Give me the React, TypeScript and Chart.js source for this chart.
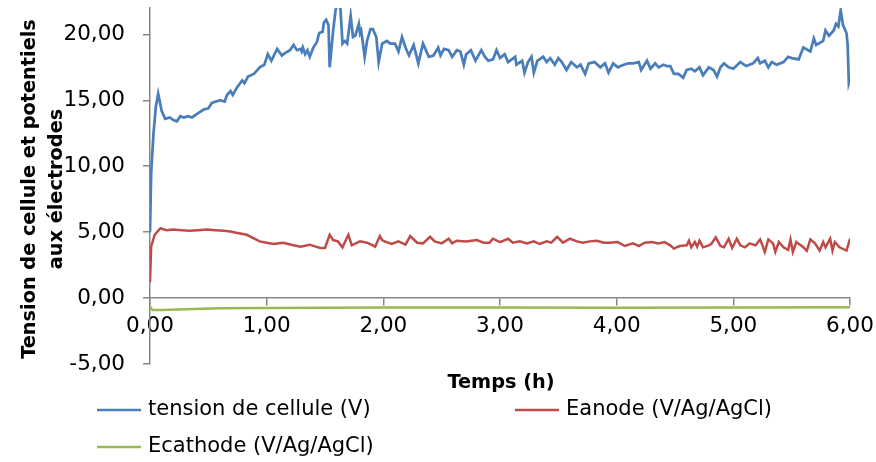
import React, { useEffect, useRef } from "react";
import { Chart, registerables } from "chart.js";

Chart.register(...registerables);

// ---- data ----
const blueT = [0, 0.01, 0.03, 0.05, 0.07, 0.1, 0.13, 0.17, 0.2, 0.23, 0.26, 0.29, 0.33, 0.36, 0.41, 0.46, 0.5, 0.53, 0.6, 0.64, 0.66, 0.69, 0.71, 0.74, 0.79, 0.81, 0.84, 0.89, 0.91, 0.94, 0.98, 1.01, 1.04, 1.09, 1.13, 1.16, 1.2, 1.23, 1.26, 1.29, 1.3, 1.31, 1.33, 1.35, 1.37, 1.4, 1.43, 1.45, 1.48, 1.49, 1.51, 1.53, 1.54, 1.57, 1.59, 1.61, 1.63, 1.65, 1.67, 1.69, 1.72, 1.74, 1.76, 1.79, 1.8, 1.81, 1.84, 1.86, 1.89, 1.91, 1.94, 1.96, 1.99, 2.03, 2.06, 2.1, 2.13, 2.16, 2.19, 2.22, 2.26, 2.3, 2.34, 2.39, 2.43, 2.47, 2.49, 2.52, 2.56, 2.59, 2.63, 2.66, 2.69, 2.71, 2.75, 2.79, 2.84, 2.87, 2.9, 2.94, 2.97, 3.0, 3.04, 3.07, 3.13, 3.14, 3.19, 3.21, 3.24, 3.27, 3.29, 3.32, 3.37, 3.4, 3.43, 3.47, 3.5, 3.53, 3.57, 3.61, 3.66, 3.69, 3.73, 3.76, 3.81, 3.86, 3.9, 3.93, 3.97, 4.01, 4.06, 4.1, 4.14, 4.19, 4.21, 4.26, 4.29, 4.33, 4.36, 4.4, 4.43, 4.46, 4.49, 4.53, 4.57, 4.6, 4.64, 4.67, 4.71, 4.74, 4.79, 4.83, 4.86, 4.89, 4.92, 4.96, 5.0, 5.06, 5.11, 5.17, 5.21, 5.23, 5.27, 5.3, 5.33, 5.37, 5.43, 5.47, 5.5, 5.56, 5.6, 5.66, 5.69, 5.71, 5.77, 5.79, 5.82, 5.86, 5.88, 5.9, 5.92, 5.94, 5.97, 5.98, 5.99, 6.0];
const blueV = [5.0, 9.5, 12.5, 14.5, 15.5, 14.2, 13.6, 13.7, 13.5, 13.4, 13.8, 13.7, 13.8, 13.7, 14.0, 14.3, 14.4, 14.8, 15.0, 14.9, 15.4, 15.7, 15.4, 15.9, 16.5, 16.3, 16.8, 17.0, 17.2, 17.5, 17.7, 18.5, 18.0, 18.9, 18.4, 18.6, 18.8, 19.2, 18.8, 18.9, 18.7, 19.0, 18.5, 18.8, 18.3, 19.0, 19.4, 20.1, 20.2, 20.9, 21.1, 20.7, 17.5, 20.3, 21.8, 22.5, 22.3, 19.3, 19.5, 19.3, 21.4, 19.8, 19.9, 20.8, 20.1, 20.3, 18.3, 19.5, 20.4, 20.4, 19.8, 17.9, 19.3, 19.5, 19.3, 19.3, 18.7, 19.8, 19.0, 18.4, 19.2, 17.8, 19.3, 18.3, 18.4, 19.0, 18.4, 18.9, 18.8, 18.3, 18.8, 18.7, 17.7, 18.5, 18.8, 18.0, 18.8, 18.3, 18.0, 18.1, 18.8, 18.2, 18.5, 17.9, 18.3, 17.7, 18.0, 17.1, 17.9, 18.3, 17.1, 18.0, 18.3, 17.9, 18.2, 17.7, 18.2, 17.9, 17.3, 17.9, 17.5, 17.7, 17.0, 17.8, 17.9, 17.5, 17.8, 17.1, 17.8, 17.5, 17.7, 17.8, 17.8, 17.9, 17.3, 18.0, 17.4, 17.8, 17.5, 17.7, 17.6, 17.6, 17.0, 17.0, 16.7, 17.3, 17.4, 17.2, 17.5, 16.9, 17.5, 17.3, 16.8, 17.5, 17.8, 17.5, 17.4, 17.9, 17.6, 17.8, 18.2, 17.8, 18.0, 17.5, 17.9, 17.7, 17.9, 18.3, 18.2, 18.1, 19.0, 18.7, 19.7, 19.2, 19.5, 20.3, 19.9, 20.3, 20.8, 20.6, 21.8, 20.7, 20.1, 19.2, 16.3, 16.6];

const redT = [0, 0.01, 0.04, 0.09, 0.14, 0.2, 0.27, 0.34, 0.41, 0.49, 0.56, 0.63, 0.69, 0.74, 0.83, 0.94, 1.0, 1.06, 1.14, 1.23, 1.29, 1.37, 1.42, 1.46, 1.5, 1.54, 1.57, 1.61, 1.65, 1.7, 1.73, 1.8, 1.86, 1.91, 1.93, 1.97, 1.99, 2.01, 2.07, 2.13, 2.19, 2.23, 2.29, 2.34, 2.4, 2.44, 2.5, 2.56, 2.59, 2.63, 2.71, 2.8, 2.86, 2.91, 2.94, 3.0, 3.07, 3.11, 3.17, 3.23, 3.29, 3.34, 3.4, 3.44, 3.49, 3.54, 3.6, 3.66, 3.71, 3.77, 3.83, 3.89, 3.94, 4.01, 4.07, 4.14, 4.19, 4.24, 4.3, 4.36, 4.41, 4.46, 4.49, 4.54, 4.6, 4.62, 4.64, 4.67, 4.69, 4.71, 4.74, 4.79, 4.81, 4.85, 4.89, 4.92, 4.96, 4.99, 5.03, 5.06, 5.1, 5.14, 5.19, 5.23, 5.27, 5.3, 5.34, 5.36, 5.39, 5.43, 5.47, 5.49, 5.51, 5.54, 5.6, 5.63, 5.66, 5.7, 5.74, 5.77, 5.79, 5.83, 5.85, 5.87, 5.91, 5.97, 6.0];
const redV = [1.2, 3.9, 4.8, 5.3, 5.15, 5.2, 5.15, 5.1, 5.15, 5.2, 5.15, 5.1, 5.05, 4.95, 4.8, 4.3, 4.2, 4.1, 4.2, 4.0, 3.9, 4.05, 3.9, 3.8, 3.8, 4.8, 4.4, 4.3, 3.85, 4.8, 4.0, 4.3, 4.2, 4.0, 3.9, 4.7, 4.4, 4.3, 4.1, 4.3, 4.05, 4.7, 4.2, 4.15, 4.65, 4.3, 4.15, 4.5, 4.15, 4.35, 4.3, 4.4, 4.2, 4.2, 4.5, 4.25, 4.5, 4.2, 4.3, 4.15, 4.3, 4.1, 4.3, 4.2, 4.65, 4.2, 4.5, 4.3, 4.2, 4.3, 4.35, 4.2, 4.2, 4.25, 3.95, 4.15, 3.95, 4.2, 4.25, 4.15, 4.25, 4.0, 3.75, 3.95, 4.0, 4.35, 3.85, 4.25, 3.9, 4.35, 3.85, 4.0, 4.1, 4.6, 3.95, 3.85, 4.5, 3.8, 4.5, 4.0, 3.85, 4.15, 4.0, 4.45, 3.5, 4.45, 4.15, 3.5, 4.25, 3.85, 3.65, 4.45, 3.5, 4.25, 3.85, 3.6, 4.45, 4.15, 3.6, 4.25, 3.85, 4.5, 3.6, 4.25, 3.85, 3.6, 4.5];

const greenT = [0, 0.02, 0.1, 0.3, 0.6, 1.0, 2.0, 3.0, 4.0, 5.0, 6.0];
const greenV = [-0.65, -0.9, -0.9, -0.85, -0.78, -0.75, -0.72, -0.72, -0.73, -0.72, -0.7];

const yTicks = [-5, 0, 5, 10, 15, 20];
const xTicks = [0, 1, 2, 3, 4, 5, 6];

const seriesNames = ["tension de cellule (V)", "Eanode (V/Ag/AgCl)", "Ecathode (V/Ag/AgCl)"];
const yTitleLines = ["Tension de cellule et potentiels", "aux électrodes"];
const xTitle = "Temps (h)";

const COLORS = ["#4A7EBB", "#BE4B48", "#98B954"];
const AXIS = "#868686";
const FONT = "'DejaVu Sans', sans-serif";

const fmt = (v: number) => v.toFixed(2).replace(".", ",");

const pts = (t: number[], v: number[]) => t.map((x, i) => ({ x, y: v[i] }));

const decorPlugin = {
  id: "decor",
  afterDraw(chart: any) {
    const ctx = chart.ctx;
    ctx.save();
    // y title
    ctx.fillStyle = "#000";
    ctx.font = `bold 19.3px ${FONT}`;
    ctx.textAlign = "center";
    ctx.textBaseline = "middle";
    ctx.save();
    ctx.translate(30, 189);
    ctx.rotate(-Math.PI / 2);
    ctx.fillText(yTitleLines[0], 0, 0);
    ctx.restore();
    ctx.save();
    ctx.translate(57, 189);
    ctx.rotate(-Math.PI / 2);
    ctx.fillText(yTitleLines[1], 0, 0);
    ctx.restore();
    // x title
    ctx.fillText(xTitle, 501, 383);
    // legend
    ctx.font = `21px ${FONT}`;
    ctx.textAlign = "left";
    const items = [
      { x: 97, y: 410 },
      { x: 515, y: 410 },
      { x: 97, y: 447 },
    ];
    items.forEach((it, i) => {
      ctx.strokeStyle = COLORS[i];
      ctx.lineWidth = 2.5;
      ctx.beginPath();
      ctx.moveTo(it.x, it.y);
      ctx.lineTo(it.x + 44, it.y);
      ctx.stroke();
      ctx.fillStyle = "#000";
      ctx.fillText(seriesNames[i], it.x + 51, it.y);
    });
    ctx.restore();
  },
};

export default function App() {
  const ref = useRef<HTMLCanvasElement>(null);
  useEffect(() => {
    document.body.style.margin = "0";
    const chart = new Chart(ref.current!, {
      type: "line",
      data: {
        datasets: [
          { label: seriesNames[0], data: pts(blueT, blueV), borderColor: COLORS[0], borderWidth: 2.75, pointRadius: 0, tension: 0 },
          { label: seriesNames[1], data: pts(redT, redV), borderColor: COLORS[1], borderWidth: 2.5, pointRadius: 0, tension: 0 },
          { label: seriesNames[2], data: pts(greenT, greenV), borderColor: COLORS[2], borderWidth: 2.5, pointRadius: 0, tension: 0 },
        ],
      },
      options: {
        responsive: false,
        animation: false,
        layout: { padding: { left: 0, top: 8, right: 26, bottom: 98 } },
        plugins: { legend: { display: false }, tooltip: { enabled: false } },
        scales: {
          x: {
            type: "linear",
            min: 0,
            max: 6,
            position: { y: 0 } as any,
            afterBuildTicks: (s: any) => { s.ticks = xTicks.map((v) => ({ value: v })); },
            afterFit: (s: any) => { s.height = 0; s.paddingLeft = 0; s.paddingRight = 0; },
            ticks: { callback: (v: any) => fmt(Number(v)), color: "#000", font: { family: FONT, size: 21.5 }, padding: 8, maxRotation: 0, autoSkip: false },
            grid: { drawOnChartArea: false, drawTicks: true, tickLength: 7, color: AXIS, lineWidth: 1.5 },
            border: { display: true, color: AXIS, width: 1.5 },
          },
          y: {
            type: "linear",
            min: -5,
            max: 22,
            afterBuildTicks: (s: any) => { s.ticks = yTicks.map((v) => ({ value: v })); },
            afterFit: (s: any) => { s.width = 150; s.paddingTop = 0; s.paddingBottom = 0; },
            ticks: { callback: (v: any) => fmt(Number(v)), color: "#000", font: { family: FONT, size: 21.5 }, padding: 18 },
            grid: { drawOnChartArea: false, drawTicks: true, tickLength: 7, color: AXIS, lineWidth: 1.5 },
            border: { display: true, color: AXIS, width: 1.5 },
          },
        },
      },
      plugins: [decorPlugin],
    });
    return () => chart.destroy();
  }, []);
  return <canvas ref={ref} width={876} height={462} style={{ display: "block" }} />;
}
